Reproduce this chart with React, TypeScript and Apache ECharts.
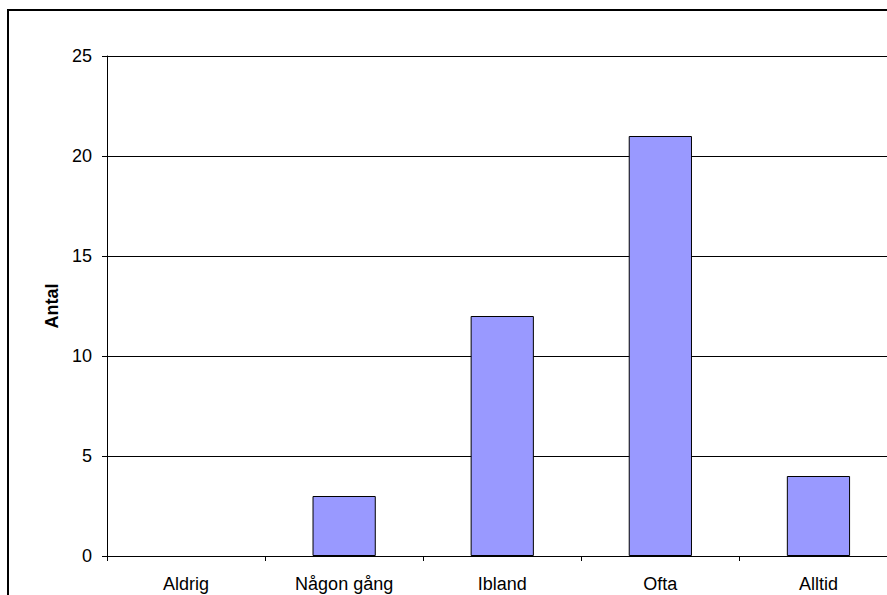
import React, { useEffect, useRef } from "react";
import * as echarts from "echarts";

const categories = ["Aldrig", "Någon gång", "Ibland", "Ofta", "Alltid"];
const values = [0, 3, 12, 21, 4];
const yTicks = [0, 5, 10, 15, 20, 25];
const yAxisTitle = "Antal";

const FONT = "'Liberation Sans', Arial, sans-serif";

export default function App() {
  const ref = useRef<HTMLDivElement>(null);
  useEffect(() => {
    if (!ref.current) return;
    const chart = echarts.init(ref.current, undefined, { renderer: "svg" });
    chart.setOption({
      animation: false,
      backgroundColor: "#ffffff",
      textStyle: { fontFamily: FONT },
      graphic: [
        {
          type: "rect",
          shape: { x: 8, y: 10, width: 1000, height: 700 },
          style: { fill: "none", stroke: "#000", lineWidth: 2 },
          silent: true,
          z: 100,
        },
      ],
      grid: { left: 107, top: 56, width: 790.5, height: 500 },
      xAxis: {
        type: "category",
        data: categories,
        axisLine: { show: true, lineStyle: { color: "#000", width: 1 } },
        axisTick: { show: true, alignWithLabel: false, length: 5, lineStyle: { color: "#000" } },
        axisLabel: { color: "#000", fontSize: 18, fontFamily: FONT, margin: 19 },
        splitLine: { show: false },
      },
      yAxis: {
        type: "value",
        min: yTicks[0],
        max: yTicks[yTicks.length - 1],
        interval: 5,
        name: yAxisTitle,
        nameLocation: "middle",
        nameGap: 43,
        nameRotate: 90,
        nameTextStyle: { color: "#000", fontSize: 18, fontWeight: "bold", fontFamily: FONT },
        axisLine: { show: true, lineStyle: { color: "#000", width: 1 } },
        axisTick: { show: true, length: 5, lineStyle: { color: "#000" } },
        axisLabel: { color: "#000", fontSize: 18, fontFamily: FONT, margin: 15 },
        splitLine: { show: true, lineStyle: { color: "#000", width: 1 } },
      },
      series: [
        {
          type: "bar",
          data: values.map((v) =>
            v === 0 ? { value: v, itemStyle: { borderWidth: 0, opacity: 0 } } : v
          ),
          barWidth: "40%",
          itemStyle: { color: "#9999FF", borderColor: "#000", borderWidth: 1 },
        },
      ],
    });
    return () => chart.dispose();
  }, []);
  return (
    <div
      style={{
        position: "fixed",
        left: 0,
        top: 0,
        width: 887,
        height: 595,
        overflow: "hidden",
        background: "#fff",
      }}
    >
      <div ref={ref} style={{ width: 1000, height: 700 }} />
    </div>
  );
}
